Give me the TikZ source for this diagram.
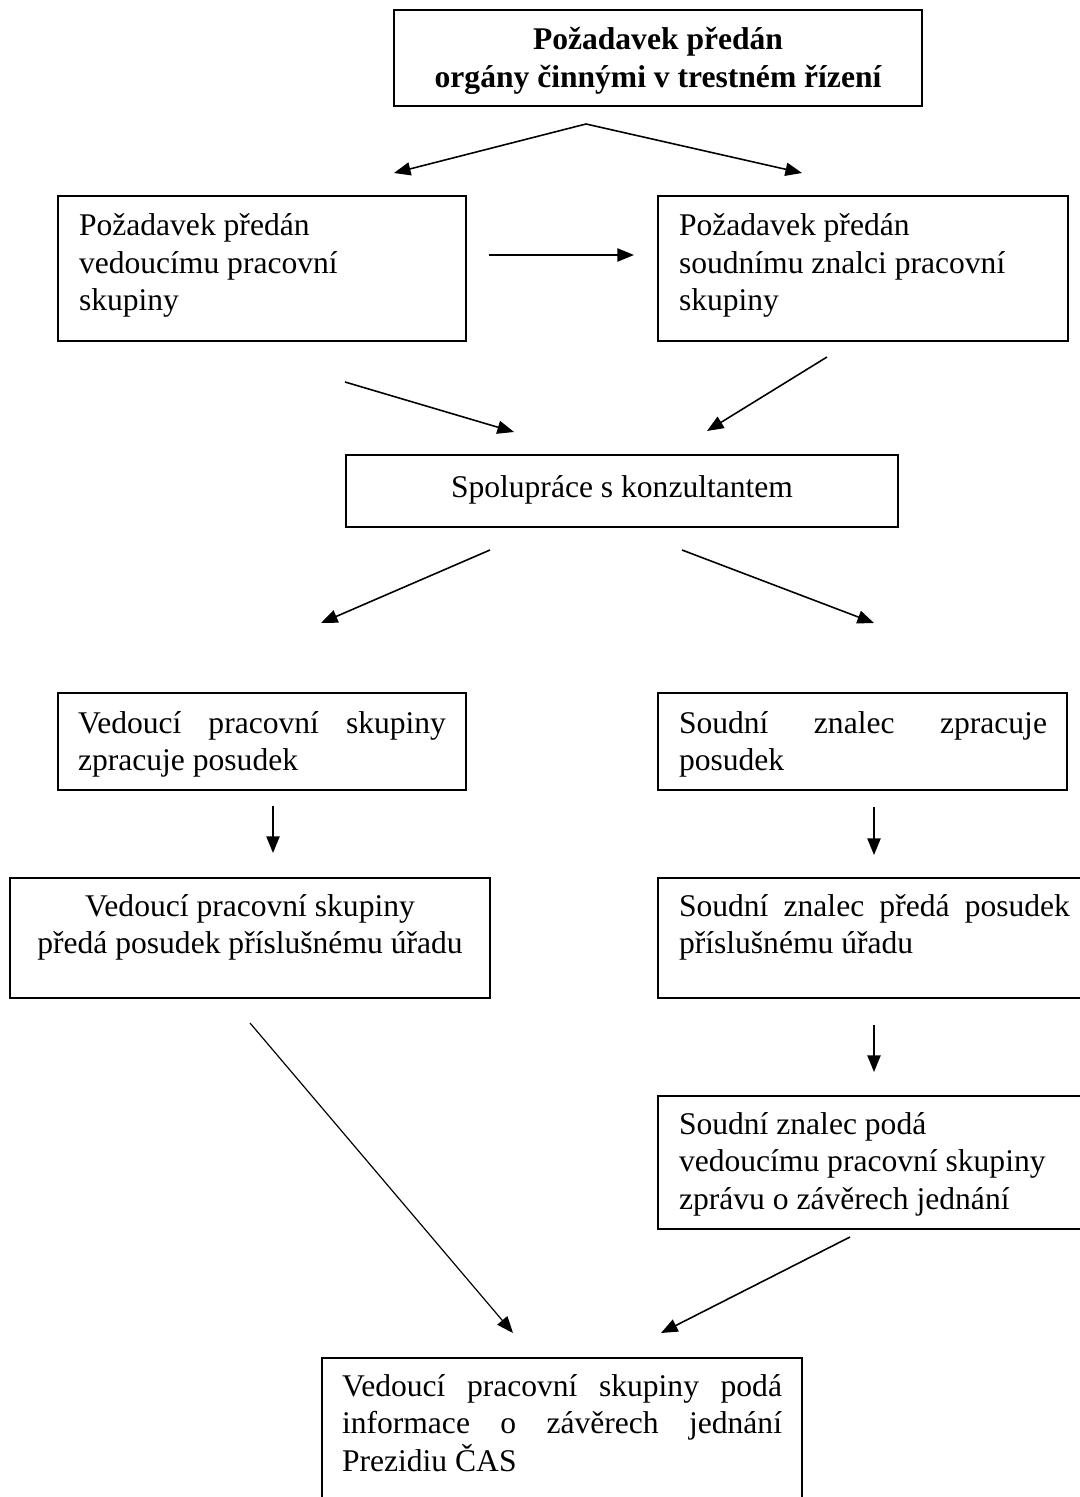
\documentclass[tikz,border=0pt]{standalone}
\usepackage{fontspec}
\setmainfont{Liberation Serif}
\usetikzlibrary{arrows.meta}
\begin{document}
\begin{tikzpicture}[x=0.38pt,y=-0.38pt,
  bx/.style={draw, line width=0.6pt, inner sep=0pt, outer sep=0pt, anchor=north west},
  tx/.style={inner sep=0pt, outer sep=0pt, font=\fontsize{12}{14.25}\selectfont},
  arr/.style={-{Triangle[length=6.3pt,width=5pt]}, line width=0.6pt},
  arrthin/.style={-{Triangle[length=6.3pt,width=5pt]}, line width=0.45pt}]
\clip (0,0) rectangle (1080,1497);
\fill[white] (0,0) rectangle (1080,1497);

% boxes
\node[bx, minimum width=200.64pt, minimum height=36.48pt] (top) at (394,10) {};
\node[bx, minimum width=155.04pt, minimum height=55.1pt] (l1) at (58,196) {};
\node[bx, minimum width=155.8pt, minimum height=55.1pt] (r1) at (658,196) {};
\node[bx, minimum width=209.76pt, minimum height=27.36pt] (mid) at (346,455) {};
\node[bx, minimum width=155.04pt, minimum height=36.86pt] (l2) at (58,693) {};
\node[bx, minimum width=155.42pt, minimum height=36.86pt] (r2) at (658,693) {};
\node[bx, minimum width=182.4pt, minimum height=45.6pt] (l3) at (10,878) {};
\node[bx, minimum width=166.06pt, minimum height=45.6pt] (r3) at (658,878) {};
\node[bx, minimum width=166.06pt, minimum height=50.54pt] (r4) at (658,1096) {};
\node[bx, minimum width=182.4pt, minimum height=61.56pt] (bot) at (322,1358) {};

% texts
\node[tx, anchor=north, align=center, font=\fontsize{12}{14.25}\selectfont\bfseries] (topt) at (658,23.75)
  {\strut Požadavek předán\\ orgány činnými v trestném řízení};
\node[tx, anchor=north west, align=left] (l1t) at (79,209.75)
  {\strut Požadavek předán\\ vedoucímu pracovní\\ skupiny};
\node[tx, anchor=north west, align=left] (r1t) at (679,209.75)
  {\strut Požadavek předán\\ soudnímu znalci pracovní\\ skupiny};
\node[tx, anchor=base] (midt) at (622,497) {Spolupráce s konzultantem};
\node[tx, anchor=north west, text width=139.84pt, align=justify] (l2t) at (78,706.75)
  {\noindent\strut Vedoucí pracovní skupiny\linebreak zpracuje posudek};
\node[tx, anchor=north west, text width=139.84pt, align=justify] (r2t) at (679,706.75)
  {\noindent\strut Soudní znalec zpracuje\linebreak posudek};
\node[tx, anchor=north, align=center] (l3t) at (250,889.75)
  {\strut Vedoucí pracovní skupiny\\ předá posudek příslušnému úřadu};
\node[tx, anchor=north west, text width=148.58pt, align=justify] (r3t) at (679,889.75)
  {\noindent\strut Soudní znalec předá posudek\linebreak příslušnému úřadu};
\node[tx, anchor=north west, align=left] (r4t) at (679,1107.75)
  {\strut Soudní znalec podá\\ vedoucímu pracovní skupiny\\ zprávu o závěrech jednání};
\node[tx, anchor=north west, text width=167.2pt, align=justify] (bott) at (342,1369.75)
  {\noindent\strut Vedoucí pracovní skupiny podá\linebreak informace o závěrech jednání\linebreak Prezidiu ČAS};

% connector end points
\coordinate (pk) at (586,124);
\coordinate (pkL) at (394,173);
\coordinate (pkR) at (802,173);
\coordinate (hA) at (489,255);
\coordinate (hB) at (634,255);
\coordinate (lmA) at (345,382);
\coordinate (lmB) at (514,432);
\coordinate (rmA) at (827,357);
\coordinate (rmB) at (707,431);
\coordinate (mlA) at (490,550);
\coordinate (mlB) at (321,623);
\coordinate (mrA) at (682,550);
\coordinate (mrB) at (874,623);
\coordinate (l23A) at (273,806);
\coordinate (l23B) at (273,853);
\coordinate (r23A) at (874,807);
\coordinate (r23B) at (874,855);
\coordinate (r34A) at (874,1025);
\coordinate (r34B) at (874,1072);
\coordinate (lbA) at (250,1023);
\coordinate (lbB) at (513,1333);
\coordinate (rbA) at (850,1237);
\coordinate (rbB) at (661,1333);

% connectors
\draw[arr] (pk) -- (pkL);
\draw[arr] (pk) -- (pkR);
\draw[arr] (hA) -- (hB);
\draw[arr] (lmA) -- (lmB);
\draw[arr] (rmA) -- (rmB);
\draw[arr] (mlA) -- (mlB);
\draw[arr] (mrA) -- (mrB);
\draw[arr] (l23A) -- (l23B);
\draw[arr] (r23A) -- (r23B);
\draw[arr] (r34A) -- (r34B);
\draw[arrthin] (lbA) -- (lbB);
\draw[arr] (rbA) -- (rbB);
\end{tikzpicture}
\end{document}
